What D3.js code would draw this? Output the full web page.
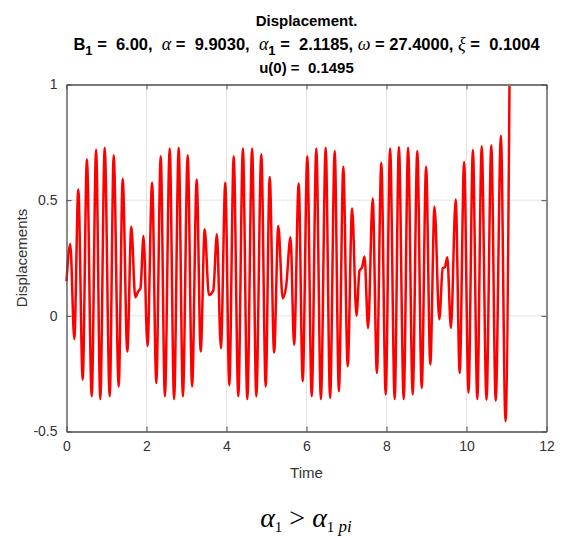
<!DOCTYPE html>
<html>
<head>
<meta charset="utf-8">
<script src="https://cdn.jsdelivr.net/npm/d3@7"></script>
<style>
  body { margin: 0; background: #fff; }
  svg { display: block; }
</style>
</head>
<body>
<div id="chart"></div>
<script>
// values (peaks, troughs and the wiggles at each beat lull)
var timeVals = [0, 0.095, 0.195, 0.295, 0.405, 0.51, 0.63, 0.74, 0.845, 0.955,
  1.08, 1.18, 1.305, 1.405, 1.52, 1.62, 1.72, 1.79, 1.85, 1.925,
  2.025, 2.14, 2.245, 2.355, 2.46, 2.58, 2.69, 2.805, 2.91, 3.03,
  3.14, 3.255, 3.355, 3.455, 3.56, 3.67, 3.76, 3.86, 3.97, 4.07,
  4.18, 4.295, 4.41, 4.52, 4.64, 4.745, 4.87, 4.98, 5.08, 5.19,
  5.295, 5.405, 5.49, 5.6, 5.69, 5.805, 5.905, 6.02, 6.13, 6.245,
  6.36, 6.48, 6.59, 6.705, 6.81, 6.92, 7.03, 7.14, 7.25, 7.325,
  7.39, 7.45, 7.54, 7.655, 7.76, 7.87, 7.98, 8.09, 8.205, 8.31,
  8.43, 8.54, 8.655, 8.77, 8.88, 8.99, 9.095, 9.2, 9.32, 9.405,
  9.46, 9.52, 9.61, 9.73, 9.83, 9.94, 10.05, 10.16, 10.27, 10.38,
  10.5, 10.62, 10.73, 10.86, 10.975, 11.075];
var dispVals = [0.1495, 0.31, -0.10, 0.546, -0.276, 0.677, -0.348, 0.718, -0.36, 0.727,
  -0.348, 0.694, -0.305, 0.593, -0.154, 0.385, 0.08, 0.105, 0.12, 0.345,
  -0.13, 0.575, -0.29, 0.69, -0.348, 0.723, -0.36, 0.727, -0.348, 0.694,
  -0.305, 0.589, -0.154, 0.374, 0.09, 0.11, 0.353, -0.14, 0.575, -0.30,
  0.69, -0.348, 0.723, -0.36, 0.723, -0.348, 0.698, -0.305, 0.60, -0.158,
  0.388, 0.076, 0.126, 0.34, -0.125, 0.572, -0.283, 0.69, -0.348, 0.723,
  -0.36, 0.727, -0.355, 0.713, -0.326, 0.644, -0.218, 0.464, 0.0, 0.195,
  0.21, 0.256, -0.053, 0.507, -0.247, 0.662, -0.34, 0.723, -0.36, 0.73,
  -0.36, 0.727, -0.34, 0.713, -0.312, 0.644, -0.21, 0.472, -0.015, 0.205,
  0.21, 0.253, -0.053, 0.503, -0.247, 0.665, -0.333, 0.717, -0.36, 0.733,
  -0.363, 0.737, -0.367, 0.778, -0.456, 0.993];

var xTicks = [0, 2, 4, 6, 8, 10, 12];
var yTicks = [-0.5, 0, 0.5, 1];
var yTickLabels = ["-0.5", "0", "0.5", "1"];

var W = 565, H = 537;
var pL = 66.5, pR = 546.5, pT = 84.5, pB = 431.5;

var svg = d3.select('#chart').append('svg')
  .attr('width', W)
  .attr('height', H);

var x = d3.scaleLinear().domain([0, 12]).range([pL, pR]);
var y = d3.scaleLinear().domain([-0.5, 1]).range([pB, pT]);

var axisCol = '#4d4d4d';
var font = 'Liberation Sans, Arial, sans-serif';

// grid
svg.append('g').selectAll('line.gx')
  .data(xTicks.slice(1, -1)).enter().append('line')
  .attr('x1', d => x(d)).attr('x2', d => x(d))
  .attr('y1', pT).attr('y2', pB)
  .attr('stroke', '#e3e3e3').attr('stroke-width', 1);
svg.append('g').selectAll('line.gy')
  .data(yTicks.slice(1, -1)).enter().append('line')
  .attr('x1', pL).attr('x2', pR)
  .attr('y1', d => y(d)).attr('y2', d => y(d))
  .attr('stroke', '#e3e3e3').attr('stroke-width', 1);

// data line
var pts = timeVals.map((t, i) => [t, dispVals[i]]);
svg.append('path')
  .datum(pts)
  .attr('fill', 'none')
  .attr('stroke', '#ff0000')
  .attr('stroke-width', 2.5)
  .attr('stroke-linejoin', 'round')
  .attr('d', d3.line().x(d => x(d[0])).y(d => y(d[1])).curve(d3.curveMonotoneX));

// axes (MATLAB style box, ticks inside)
var xb = svg.append('g').attr('transform', 'translate(0,' + pB + ')')
  .call(d3.axisBottom(x).tickValues(xTicks).tickSizeInner(-5).tickSizeOuter(0).tickPadding(10));
var xt = svg.append('g').attr('transform', 'translate(0,' + pT + ')')
  .call(d3.axisTop(x).tickValues(xTicks).tickSizeInner(-5).tickSizeOuter(0).tickFormat(''));
var yl = svg.append('g').attr('transform', 'translate(' + pL + ',0)')
  .call(d3.axisLeft(y).tickValues(yTicks).tickSizeInner(-5).tickSizeOuter(0).tickPadding(9)
    .tickFormat((d, i) => yTickLabels[i]));
var yr = svg.append('g').attr('transform', 'translate(' + pR + ',0)')
  .call(d3.axisRight(y).tickValues(yTicks).tickSizeInner(-5).tickSizeOuter(0).tickFormat(''));

[xb, xt, yl, yr].forEach(function (g) {
  g.select('.domain').attr('stroke', axisCol).attr('stroke-width', 1.3);
  g.selectAll('.tick line').attr('stroke', axisCol).attr('stroke-width', 1);
  g.selectAll('.tick text').attr('fill', '#333').attr('font-size', 14).attr('font-family', font);
});

// axis labels
svg.append('text')
  .attr('x', (pL + pR) / 2).attr('y', 478)
  .attr('text-anchor', 'middle')
  .attr('font-family', font).attr('font-size', 15).attr('fill', '#333')
  .text('Time');
svg.append('text')
  .attr('transform', 'translate(27,' + ((pT + pB) / 2) + ') rotate(-90)')
  .attr('text-anchor', 'middle')
  .attr('font-family', font).attr('font-size', 15).attr('fill', '#333')
  .text('Displacements');

// title
var cx = (pL + pR) / 2;
svg.append('text')
  .attr('x', cx).attr('y', 26)
  .attr('text-anchor', 'middle')
  .attr('font-family', font).attr('font-size', 15).attr('font-weight', 'bold')
  .text('Displacement.');

var t2 = svg.append('text')
  .attr('x', cx).attr('y', 50)
  .attr('text-anchor', 'middle')
  .attr('font-family', font).attr('font-size', 16.5).attr('font-weight', 'bold')
  .style('white-space', 'pre');
var greek = 'Liberation Serif, Times New Roman, serif';
var parts = [
  ['B', 0], ['1', 1], [' =  6.00,  ', -1],
  ['α', 'g'], [' =  9.9030,  ', 0],
  ['α', 'g'], ['1', 1], [' =  2.1185, ', -1],
  ['ω', 'g'], [' = 27.4000, ', 0],
  ['ξ', 'g'], [' =  0.1004', 0]
];
parts.forEach(function (p) {
  var ts = t2.append('tspan').text(p[0]);
  if (p[1] === 'g') ts.attr('font-family', greek).attr('font-weight', 'normal').attr('font-style', 'italic').attr('font-size', 18);
  if (p[1] === 1) ts.attr('dy', 5).attr('font-size', 13);
  if (p[1] === -1) ts.attr('dy', -5);
});

svg.append('text')
  .attr('x', cx).attr('y', 73)
  .attr('text-anchor', 'middle')
  .attr('font-family', font).attr('font-size', 15).attr('font-weight', 'bold')
  .style('white-space', 'pre')
  .text('u(0) =  0.1495');

// caption formula below the chart
var f = svg.append('text')
  .attr('x', 306).attr('y', 527)
  .attr('text-anchor', 'middle')
  .attr('font-family', greek).attr('font-size', 28)
  .style('white-space', 'pre');
f.append('tspan').attr('font-style', 'italic').text('α');
f.append('tspan').attr('font-size', 15).attr('dy', 5).text('1');
f.append('tspan').attr('dy', -5).text(' > ');
f.append('tspan').attr('font-style', 'italic').text('α');
f.append('tspan').attr('font-size', 15).attr('dy', 5).text('1');
f.append('tspan').attr('font-size', 17).attr('font-style', 'italic').text(' pi');
</script>
</body>
</html>
